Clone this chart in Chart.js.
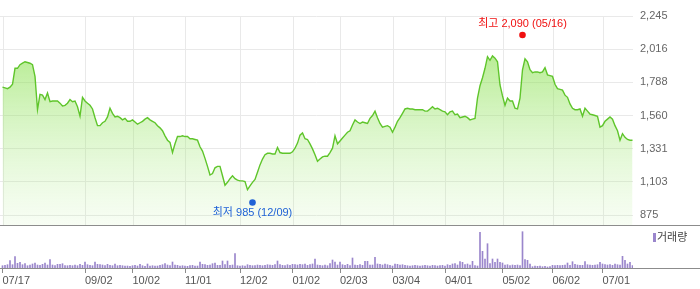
<!DOCTYPE html>
<html>
<head>
<meta charset="utf-8">
<script src="https://cdn.jsdelivr.net/npm/chart.js@4.4.1/dist/chart.umd.min.js"></script>
<style>
  body { margin: 0; background: #fff; }
  canvas { display: block; }
</style>
</head>
<body>
<canvas id="stockChart" width="700" height="289"></canvas>
<script>
// 종가 (07/17 ~ 07/xx, 거래일 순)
const closePrices = [
    1755, 1750, 1745, 1755, 1775, 1885, 1885, 1910, 1920, 1930,
    1925, 1920, 1910, 1830, 1600, 1705, 1700, 1670, 1715, 1655,
    1660, 1660, 1660, 1645, 1625, 1630, 1645, 1670, 1655, 1660,
    1620, 1555, 1685, 1660, 1645, 1630, 1605, 1545, 1490, 1490,
    1510, 1520, 1550, 1610, 1575, 1550, 1555, 1545, 1530, 1540,
    1520, 1520, 1530, 1515, 1500, 1510, 1520, 1535, 1545, 1530,
    1520, 1510, 1490, 1475, 1455, 1420, 1390, 1375, 1305, 1365,
    1415, 1415, 1420, 1415, 1415, 1400, 1400, 1395, 1390, 1345,
    1315, 1265, 1210, 1150, 1160, 1200, 1210, 1210, 1145, 1080,
    1100, 1125, 1145, 1125, 1115, 1110, 1110, 1105, 1050, 1075,
    1100, 1120, 1170, 1220, 1260, 1290, 1300, 1300, 1295, 1295,
    1340, 1305, 1300, 1300, 1300, 1300, 1310, 1335, 1370, 1425,
    1440, 1400, 1395, 1365, 1330, 1290, 1245, 1260, 1275, 1280,
    1280, 1305, 1335, 1420, 1365, 1385, 1405, 1425, 1445, 1455,
    1495, 1530, 1515, 1505, 1515, 1510, 1505, 1540, 1560, 1590,
    1545, 1505, 1480, 1485, 1490, 1480, 1445, 1480, 1520, 1545,
    1575, 1605, 1610, 1605, 1605, 1600, 1600, 1600, 1600, 1590,
    1590, 1605, 1620, 1605, 1610, 1600, 1590, 1585, 1565, 1585,
    1590, 1565, 1570, 1545, 1550, 1555, 1545, 1530, 1535, 1540,
    1680, 1765, 1820, 1885, 1965, 1940, 1970, 1955, 1930, 1770,
    1695, 1630, 1680, 1660, 1660, 1610, 1605, 1680, 1875, 1950,
    1930, 1875, 1855, 1860, 1860, 1855, 1860, 1890, 1840, 1835,
    1830, 1775, 1745, 1740, 1735, 1700, 1685, 1640, 1610, 1600,
    1600, 1605, 1555, 1610, 1590, 1570, 1565, 1560, 1555, 1480,
    1490, 1520, 1535, 1550, 1535, 1490, 1455, 1390, 1435, 1410,
    1395, 1390, 1390
];

// 거래량 (천주)
const volumes = [
    23, 27, 33, 73, 33, 113, 47, 57, 33, 43,
    23, 30, 40, 50, 30, 27, 37, 50, 30, 83,
    30, 23, 37, 37, 43, 23, 23, 27, 23, 30,
    23, 37, 27, 60, 33, 27, 23, 60, 37, 33,
    30, 23, 37, 27, 23, 40, 23, 27, 23, 20,
    20, 17, 23, 27, 20, 37, 23, 17, 40, 20,
    23, 20, 20, 27, 33, 43, 30, 23, 60, 30,
    27, 20, 23, 20, 17, 23, 27, 20, 20, 60,
    37, 33, 27, 30, 43, 50, 27, 27, 70, 33,
    70, 27, 30, 143, 23, 20, 23, 20, 33, 27,
    23, 23, 30, 27, 23, 27, 33, 30, 27, 33,
    70, 33, 27, 23, 33, 27, 37, 33, 30, 37,
    33, 40, 27, 33, 40, 90, 30, 27, 23, 30,
    23, 43, 80, 60, 30, 60, 33, 27, 37, 23,
    100, 30, 27, 33, 27, 67, 67, 30, 30, 107,
    40, 37, 30, 40, 33, 27, 20, 40, 37, 30,
    33, 27, 23, 20, 23, 27, 23, 20, 23, 27,
    23, 20, 27, 23, 20, 23, 27, 20, 33, 27,
    40, 43, 30, 63, 57, 33, 40, 30, 67, 23,
    20, 357, 167, 90, 243, 43, 90, 57, 90, 57,
    50, 30, 33, 23, 30, 27, 30, 23, 363, 83,
    77, 40, 13, 20, 17, 20, 13, 17, 10, 13,
    27, 23, 27, 23, 27, 30, 50, 27, 63, 37,
    30, 27, 27, 63, 33, 30, 27, 30, 33, 57,
    40, 33, 30, 33, 27, 40, 33, 30, 117, 77,
    40, 57, 23
];

const tickDays = [0, 33, 52, 73, 95, 116, 135, 156, 177, 200, 220, 240];
const tickLabels = ['07/17', '09/02', '10/02', '11/01', '12/02', '01/02', '02/03', '03/04', '04/01', '05/02', '06/02', '07/01'];

const priceTicks = [875, 1103.3, 1331.7, 1560, 1788.3, 2016.7, 2245];
const priceLabels = ['875', '1,103', '1,331', '1,560', '1,788', '2,016', '2,245'];
const PRICE_FLOOR = 806;

// [거래일 index, 가격, 날짜]
const highMark = [208, 2090, '05/16'];
const lowMark = [100, 985, '12/09'];

const FONT = "'Liberation Sans', 'Noto Sans CJK KR', sans-serif";
Chart.defaults.font.family = FONT;
Chart.defaults.font.size = 11;

const days = closePrices.map((_, i) => i);

// 세로 격자, 구분선, 최고/최저 표시, 거래량 범례
const stockDecor = {
    id: 'stockDecor',
    beforeDatasetsDraw(chart) {
        const { ctx, chartArea, scales } = chart;
        const yFloor = scales.y.getPixelForValue(PRICE_FLOOR);
        ctx.save();
        ctx.strokeStyle = '#e9e9e9';
        ctx.lineWidth = 1;
        tickDays.forEach(d => {
            const x = Math.round(scales.x.getPixelForValue(d)) + 0.5;
            ctx.beginPath();
            ctx.moveTo(x, chartArea.top);
            ctx.lineTo(x, yFloor);
            ctx.stroke();
        });
        ctx.restore();
    },
    afterDraw(chart) {
        const { ctx, chartArea, scales } = chart;
        const yFloor = Math.round(scales.y.getPixelForValue(PRICE_FLOOR)) + 0.5;
        const yBase = Math.round(chartArea.bottom) + 0.5;
        ctx.save();
        ctx.strokeStyle = '#8c8c8c';
        ctx.lineWidth = 1;
        [yFloor, yBase].forEach(y => {
            ctx.beginPath();
            ctx.moveTo(0, y);
            ctx.lineTo(chart.width, y);
            ctx.stroke();
        });

        const drawMark = (mark, title, color, dir) => {
            const x = scales.x.getPixelForValue(mark[0]);
            const y = scales.y.getPixelForValue(mark[1]) + dir * 3.5;
            ctx.fillStyle = color;
            ctx.beginPath();
            ctx.arc(x, y, 3.3, 0, Math.PI * 2);
            ctx.fill();
            ctx.font = '11px ' + FONT;
            ctx.textAlign = 'center';
            ctx.textBaseline = 'middle';
            ctx.fillText(title + ' ' + mark[1].toLocaleString('en-US') + ' (' + mark[2] + ')', x, y + dir * 10.7);
        };
        drawMark(highMark, '최고', '#f01010', -1);
        drawMark(lowMark, '최저', '#1f62d6', 1);

        // 범례
        ctx.fillStyle = '#9a86cc';
        ctx.fillRect(653, 233, 3, 9);
        ctx.fillStyle = '#444';
        ctx.font = '11px ' + FONT;
        ctx.textAlign = 'left';
        ctx.textBaseline = 'middle';
        ctx.fillText('거래량', 657, 238);
        ctx.restore();
    }
};

new Chart(document.getElementById('stockChart'), {
    data: {
        datasets: [{
            type: 'line',
            label: '종가',
            data: days.map(i => ({ x: i, y: closePrices[i] })),
            yAxisID: 'y',
            borderColor: '#5fc52b',
            borderWidth: 1.4,
            pointRadius: 0,
            tension: 0,
            fill: { value: PRICE_FLOOR },
            backgroundColor: (c) => {
                const chart = c.chart;
                if (!chart.chartArea) return 'rgba(150,225,100,0.3)';
                const y0 = chart.chartArea.top;
                const y1 = chart.scales.y.getPixelForValue(PRICE_FLOOR);
                const g = chart.ctx.createLinearGradient(0, y0, 0, y1);
                g.addColorStop(0, 'rgba(130,222,65,0.72)');
                g.addColorStop(0.5, 'rgba(150,228,100,0.38)');
                g.addColorStop(1, 'rgba(190,240,160,0.12)');
                return g;
            }
        }, {
            type: 'bar',
            label: '거래량',
            data: days.map(i => ({ x: i, y: volumes[i] })),
            yAxisID: 'yv',
            backgroundColor: '#9a86cc',
            barThickness: 1
        }]
    },
    options: {
        responsive: false,
        devicePixelRatio: 1,
        animation: false,
        layout: { padding: { top: 16, left: 0, right: 0, bottom: 0 } },
        plugins: {
            legend: { display: false },
            tooltip: { enabled: false }
        },
        scales: {
            x: {
                type: 'linear',
                offset: false,
                min: -1,
                max: 252.2,
                afterBuildTicks: s => { s.ticks = tickDays.map(v => ({ value: v })); },
                afterFit: s => { s.height = 21; },
                ticks: {
                    autoSkip: false,
                    maxRotation: 0,
                    align: 'start',
                    padding: 1,
                    color: '#555',
                    callback: (v, i) => tickLabels[i]
                },
                grid: { offset: false, drawOnChartArea: false, drawTicks: true, tickLength: 5, color: '#8c8c8c' },
                border: { display: false }
            },
            y: {
                position: 'right',
                min: 510.2,
                max: 2245,
                afterBuildTicks: s => { s.ticks = priceTicks.map(v => ({ value: v })); },
                afterFit: s => { s.width = 67; },
                ticks: {
                    padding: 7,
                    color: '#666',
                    callback: (v, i) => priceLabels[i]
                },
                grid: { color: '#e9e9e9', drawTicks: false },
                border: { display: false }
            },
            yv: {
                display: false,
                min: 0,
                max: 2520
            }
        }
    },
    plugins: [stockDecor]
});
</script>
</body>
</html>
